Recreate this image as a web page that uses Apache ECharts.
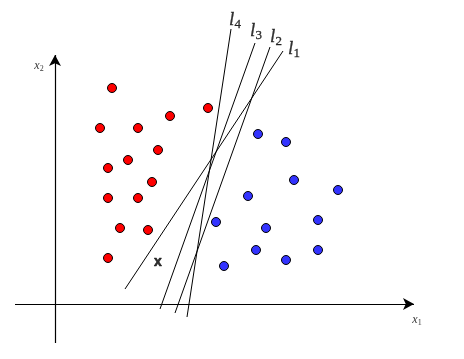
<!DOCTYPE html>
<html>
<head>
<meta charset="utf-8">
<script src="https://cdn.jsdelivr.net/npm/echarts@6/dist/echarts.min.js"></script>
<style>
html,body{margin:0;padding:0;background:#fff;}
#chart{width:464px;height:359px;}
</style>
</head>
<body>
<div id="chart"></div>
<script>
// Data (units of the x1/x2 coordinate system, origin at axis crossing)
const redPoints = [
  [5.7, 21.6], [15.3, 19.6], [11.5, 18.8], [4.5, 17.6], [8.3, 17.6],
  [10.3, 15.4], [7.3, 14.4], [5.3, 13.6], [9.7, 12.2], [5.3, 10.6],
  [8.3, 10.6], [6.5, 7.6], [9.3, 7.4], [5.3, 4.6]
];
const bluePoints = [
  [20.3, 17.0], [23.1, 16.2], [23.9, 12.4], [28.3, 11.4], [19.3, 10.8],
  [16.1, 8.2], [26.3, 8.4], [21.1, 7.6], [20.1, 5.4], [26.3, 5.4],
  [23.1, 4.4], [16.9, 3.8]
];
const queryPoint = [[10.3, 4.2]];
const lineL1 = [[7.0, 1.5], [22.8, 25.3]];
const lineL2 = [[12.0, -0.9], [21.5, 25.7]];
const lineL3 = [[10.5, -0.5], [20.0, 26.1]];
const lineL4 = [[13.2, -1.3], [17.6, 27.5]];
const lineNames = ['4', '3', '2', '1'];
const lineLabelPos = [[18.0, 28.4], [20.1, 27.3], [22.1, 26.7], [23.9, 25.5]];
const axisX1 = [[-4.0, 0], [35.9, 0]];
const axisX2 = [[0, -3.9], [0, 24.9]];
const axisNames = ['1', '2'];
const axisLabelPos = [[36.2, -1.6], [-1.6, 23.8]];

const chart = echarts.init(document.getElementById('chart'), null, {renderer: 'canvas'});

function segSeries(pts) {
  return {
    type: 'line', data: pts, symbol: 'none', silent: true,
    lineStyle: {color: '#000', width: 1}, z: 2
  };
}

const mathRich = {
  a: {fontFamily: 'Liberation Serif', fontStyle: 'italic', fontSize: 19, color: '#000', lineHeight: 20, textBorderColor: '#000', textBorderWidth: 0.3},
  b: {fontFamily: 'Liberation Serif', fontSize: 13, color: '#000', lineHeight: 20, padding: [9, 0, 0, 0], textBorderColor: '#000', textBorderWidth: 0.3}
};
const axisRich = {
  a: {fontFamily: 'Liberation Serif', fontStyle: 'italic', fontSize: 12, color: '#000', lineHeight: 14, textBorderWidth: 0},
  b: {fontFamily: 'Liberation Serif', fontSize: 8, color: '#000', lineHeight: 14, padding: [5, 0, 0, 0], textBorderWidth: 0}
};

const option = {
  animation: false,
  backgroundColor: '#fff',
  grid: {left: 0, right: 0, top: 0, bottom: 0, containLabel: false},
  xAxis: {type: 'value', min: -5.5, max: 40.9, show: false},
  yAxis: {type: 'value', min: -5.5, max: 30.4, show: false},
  series: [
    {
      type: 'line', data: [], silent: true,
      markLine: {
        silent: true, animation: false,
        symbol: ['none', 'arrow'], symbolSize: [9, 11],
        label: {show: false},
        lineStyle: {color: '#000', width: 1.2, type: 'solid'},
        data: [
          [{coord: axisX1[0]}, {coord: axisX1[1]}],
          [{coord: axisX2[0]}, {coord: axisX2[1]}]
        ]
      }
    },
    segSeries(lineL1), segSeries(lineL2), segSeries(lineL3), segSeries(lineL4),
    {
      type: 'scatter', data: redPoints, symbol: 'circle', symbolSize: 9,
      itemStyle: {color: '#ff0000', borderColor: '#000', borderWidth: 1, opacity: 1}, z: 3
    },
    {
      type: 'scatter', data: bluePoints, symbol: 'circle', symbolSize: 9,
      itemStyle: {color: '#3333ff', borderColor: '#000', borderWidth: 1, opacity: 1}, z: 3
    },
    {
      type: 'scatter', data: queryPoint, symbolSize: 1,
      itemStyle: {color: 'rgba(0,0,0,0)'},
      label: {show: true, position: 'inside', formatter: 'x', fontFamily: 'Liberation Sans', fontWeight: 'bold', fontSize: 14, color: '#000', textBorderColor: '#000', textBorderWidth: 0.6}
    },
    {
      type: 'scatter', symbolSize: 1, itemStyle: {color: 'rgba(0,0,0,0)'},
      data: lineLabelPos.map((p, i) => ({value: p, name: lineNames[i]})),
      label: {show: true, position: 'inside', formatter: p => '{a|l}{b|' + p.name + '}', rich: mathRich}
    },
    {
      type: 'scatter', symbolSize: 1, itemStyle: {color: 'rgba(0,0,0,0)'},
      data: axisLabelPos.map((p, i) => ({value: p, name: axisNames[i]})),
      label: {show: true, position: 'inside', formatter: p => '{a|x}{b|' + p.name + '}', rich: axisRich}
    }
  ]
};
chart.setOption(option);
</script>
</body>
</html>
